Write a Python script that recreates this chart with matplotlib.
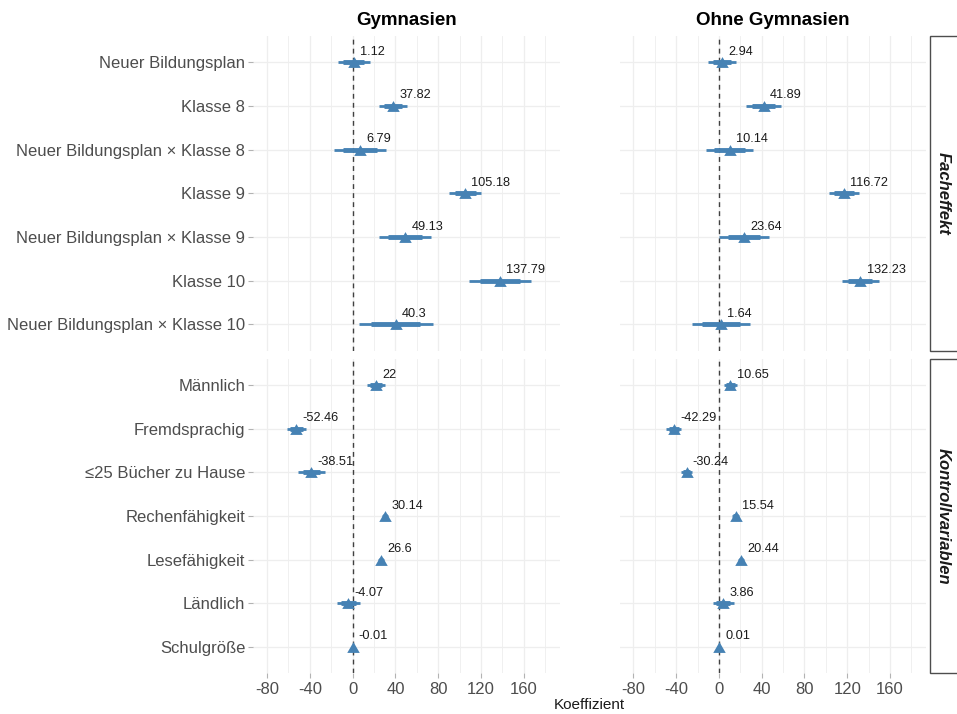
import matplotlib
matplotlib.use("Agg")
import matplotlib.pyplot as plt
from matplotlib.patches import Rectangle
from matplotlib.ticker import MultipleLocator

plt.rcParams['font.family'] = ['Liberation Sans', 'DejaVu Sans']
plt.rcParams['axes.unicode_minus'] = False

# Zeilen (von oben nach unten)
terms_fach = ["Neuer Bildungsplan", "Klasse 8", "Neuer Bildungsplan × Klasse 8",
              "Klasse 9", "Neuer Bildungsplan × Klasse 9", "Klasse 10",
              "Neuer Bildungsplan × Klasse 10"]
terms_kontroll = ["Männlich", "Fremdsprachig", "≤25 Bücher zu Hause",
                  "Rechenfähigkeit", "Lesefähigkeit", "Ländlich", "Schulgröße"]

# Koeffizienten und Standardfehler
gym_fach = [1.12, 37.82, 6.79, 105.18, 49.13, 137.79, 40.3]
gym_fach_se = [7.7, 6.6, 12.4, 7.7, 12.3, 14.6, 17.7]
gym_kontroll = [22, -52.46, -38.51, 30.14, 26.6, -4.07, -0.01]
gym_kontroll_se = [4.3, 4.7, 6.3, 1.5, 1.5, 5.5, 0.1]

ohne_fach = [2.94, 41.89, 10.14, 116.72, 23.64, 132.23, 1.64]
ohne_fach_se = [6.7, 8.4, 11.3, 7.2, 11.8, 8.7, 13.8]
ohne_kontroll = [10.65, -42.29, -30.24, 15.54, 20.44, 3.86, 0.01]
ohne_kontroll_se = [3.1, 3.5, 2.8, 1.5, 1.5, 5.0, 0.1]

col_titles = ["Gymnasien", "Ohne Gymnasien"]
row_titles = ["Facheffekt", "Kontrollvariablen"]
x_ticks = [-80, -40, 0, 40, 80, 120, 160]

blue = "#4682B4"
grid_col = "#EEEEEE"
tri = [(-1, -0.866), (1, -0.866), (0, 0.866), (-1, -0.866)]

W, H = 957, 714
fig = plt.figure(figsize=(W / 100, H / 100), dpi=100)

col_x = [(253, 560), (619.5, 926)]
row_y = [(36, 350.5), (359, 673)]

panels = [
    [(terms_fach, gym_fach, gym_fach_se), (terms_fach, ohne_fach, ohne_fach_se)],
    [(terms_kontroll, gym_kontroll, gym_kontroll_se), (terms_kontroll, ohne_kontroll, ohne_kontroll_se)],
]

for r in range(2):
    for c in range(2):
        x0, x1 = col_x[c]
        y0, y1 = row_y[r]
        ax = fig.add_axes([x0 / W, 1 - y1 / H, (x1 - x0) / W, (y1 - y0) / H])
        terms, est, se = panels[r][c]
        ypos = list(range(len(terms)))

        ax.set_xlim(-93, 193.7)
        ax.set_ylim(len(terms) - 0.4, -0.6)
        ax.xaxis.set_major_locator(MultipleLocator(40))
        ax.xaxis.set_minor_locator(MultipleLocator(20))
        ax.set_xticks(x_ticks)
        ax.set_yticks(ypos)
        ax.grid(True, which='major', color=grid_col, lw=0.9)
        ax.grid(True, which='minor', axis='x', color=grid_col, lw=0.6)
        ax.set_axisbelow(True)
        for s in ax.spines.values():
            s.set_visible(False)

        ax.axvline(0, color="#404040", lw=1.0, dashes=(3.5, 3), zorder=1)

        lo95 = [e - 1.96 * s for e, s in zip(est, se)]
        hi95 = [e + 1.96 * s for e, s in zip(est, se)]
        lo80 = [e - 1.28 * s for e, s in zip(est, se)]
        hi80 = [e + 1.28 * s for e, s in zip(est, se)]
        ax.hlines(ypos, lo95, hi95, color=blue, lw=2.0, capstyle='butt', zorder=2)
        ax.hlines(ypos, lo80, hi80, color=blue, lw=3.5, capstyle='butt', zorder=2)
        ax.plot(est, ypos, ls='none', marker=tri, ms=9, color=blue, mew=0, zorder=3)
        for e, y in zip(est, ypos):
            ax.annotate(f"{e:g}", (e, y), xytext=(4.5, 7.5), textcoords='offset points',
                        ha='left', va='center', fontsize=9.2, color="#1A1A1A", zorder=4)

        ax.tick_params(axis='both', which='both', length=0, colors="#B3B3B3",
                       labelcolor="#4D4D4D", labelsize=12)
        ax.tick_params(axis='both', which='major', length=3.5, width=0.8)
        ax.tick_params(axis='x', pad=3)
        ax.tick_params(axis='y', pad=2)
        if c == 0:
            ax.set_yticklabels(terms)
        else:
            ax.tick_params(axis='y', length=0)
            ax.set_yticklabels([])
        if r == 0:
            ax.tick_params(axis='x', length=0)
            ax.set_xticklabels([])
            ax.set_title(col_titles[c], fontsize=13.5, fontweight='bold', pad=8)
        else:
            ax.set_xticklabels([str(t) for t in x_ticks])

    # Streifen rechts
    y0, y1 = row_y[r]
    fig.add_artist(Rectangle((930 / W, 1 - y1 / H), 40 / W, (y1 - y0) / H,
                             transform=fig.transFigure, facecolor='white',
                             edgecolor='#4D4D4D', lw=1.0, clip_on=False))
    fig.text(943.5 / W, 1 - (y0 + y1) / 2 / H, row_titles[r], rotation=270,
             ha='center', va='center', fontsize=12, fontweight='bold',
             fontstyle='italic', color='#1A1A1A')

fig.text(589.5 / W, 1 - 705 / H, "Koeffizient", ha='center', va='center',
         fontsize=11, color='#1A1A1A')

fig.savefig("out.png", dpi=100, facecolor='white')
